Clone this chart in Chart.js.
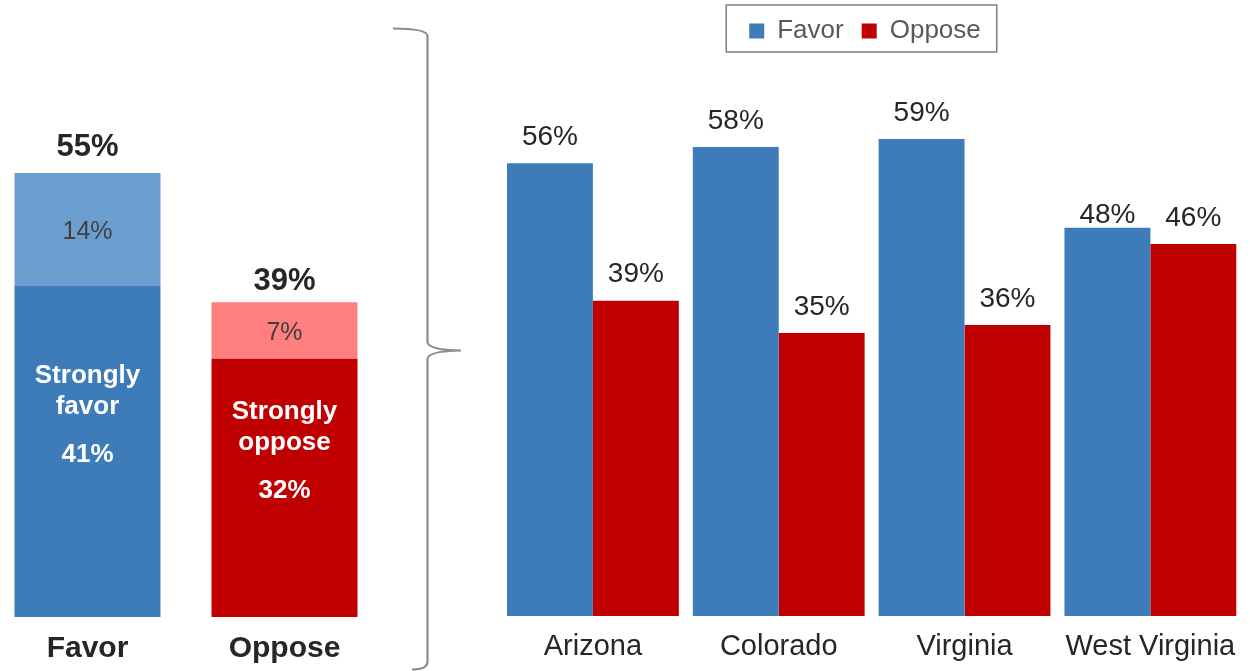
<!DOCTYPE html>
<html>
<head>
<meta charset="utf-8">
<title>Favor vs Oppose by state</title>
<script src="https://cdn.jsdelivr.net/npm/chart.js@4.4.1/dist/chart.umd.min.js"></script>
<style>
    html, body { margin: 0; padding: 0; background: #fff; }
    #wrap { position: relative; width: 1250px; height: 671px; overflow: hidden; background: #fff; }
    #total-chart { position: absolute; left: -11px; top: 0; }
    #state-chart { position: absolute; left: 480px; top: 0; }
    #brace { position: absolute; left: 0; top: 0; }
</style>
</head>
<body>
<div id="wrap">
    <canvas id="total-chart" width="394" height="671"></canvas>
    <svg id="brace" width="480" height="671">
        <path d="M393 28.5 Q427 28.5 427.5 36 L427.5 342 Q428 350 461 350.5 M461 350.5 Q428 351 427.5 359 L427.5 662 Q427 669.5 412 669.5"
              fill="none" stroke="#8c8c8c" stroke-width="2.2"></path>
    </svg>
    <canvas id="state-chart" width="770" height="671"></canvas>
</div>

<script>
    'use strict';

    var FONT = "'Liberation Sans', Arial, sans-serif";
    var TEXT_DARK = '#262626';

    // Overall result (left panel)
    var sideLabels = ['Favor', 'Oppose'];
    var strongValues = [41, 32];
    var somewhatValues = [14, 7];
    var strongNames = [['Strongly', 'favor'], ['Strongly', 'oppose']];

    // Results by state (right panel)
    var states = ['Arizona', 'Colorado', 'Virginia', 'West Virginia'];
    var favorValues = [56, 58, 59, 48];
    var opposeValues = [39, 35, 36, 46];

    var strongColors = ['#3D7BB9', '#C00000'];
    var somewhatColors = ['#6C9FD0', '#FF7F7F'];

    // Labels inside and above the stacked bars
    var stackLabels = {
        id: 'stackLabels',
        afterDatasetsDraw: function(chart, args, opts) {
            var ctx = chart.ctx;
            var lift = opts.totalLift || [];
            var strongMeta = chart.getDatasetMeta(0);
            var softMeta = chart.getDatasetMeta(1);

            ctx.save();
            ctx.textAlign = 'center';
            ctx.textBaseline = 'middle';

            strongMeta.data.forEach(function(bar, i) {
                var mid = (bar.y + bar.base) / 2;
                ctx.fillStyle = '#ffffff';
                ctx.font = 'bold 26px ' + FONT;
                ctx.fillText(strongNames[i][0], bar.x, mid - 76);
                ctx.fillText(strongNames[i][1], bar.x, mid - 45);
                ctx.fillText(strongValues[i] + '%', bar.x, mid + 3);
            });

            softMeta.data.forEach(function(bar, i) {
                var mid = (bar.y + bar.base) / 2;
                ctx.fillStyle = '#404040';
                ctx.font = '25px ' + FONT;
                ctx.fillText(somewhatValues[i] + '%', bar.x, mid + 3);

                ctx.fillStyle = TEXT_DARK;
                ctx.font = 'bold 31px ' + FONT;
                ctx.fillText((strongValues[i] + somewhatValues[i]) + '%', bar.x, bar.y - (lift[i] || 26));
            });
            ctx.restore();
        }
    };

    // Value labels above the grouped bars
    var valueLabels = {
        id: 'valueLabels',
        afterDatasetsDraw: function(chart, args, opts) {
            var ctx = chart.ctx;
            var nudge = opts.nudge || {};
            ctx.save();
            ctx.textAlign = 'center';
            ctx.textBaseline = 'middle';
            ctx.fillStyle = TEXT_DARK;
            ctx.font = '28px ' + FONT;
            chart.data.datasets.forEach(function(ds, d) {
                chart.getDatasetMeta(d).data.forEach(function(bar, i) {
                    var shift = nudge[d + '-' + i] || 0;
                    ctx.fillText(ds.data[i] + '%', bar.x, bar.y - 26 + shift);
                });
            });
            ctx.restore();
        }
    };

    // Thin frame around the legend
    var legendFrame = {
        id: 'legendFrame',
        afterDraw: function(chart) {
            var legend = chart.legend;
            if (!legend || !legend.legendHitBoxes || !legend.legendHitBoxes.length) {
                return;
            }
            var boxes = legend.legendHitBoxes;
            var first = boxes[0];
            var last = boxes[boxes.length - 1];
            var ctx = chart.ctx;
            ctx.save();
            ctx.strokeStyle = '#7f7f7f';
            ctx.lineWidth = 1.5;
            ctx.strokeRect(first.left - 23, legend.top + 5, (last.left + last.width + 16) - (first.left - 23), 47);
            ctx.restore();
        }
    };

    function buildTotalChart() {
        var ctx = document.getElementById('total-chart').getContext('2d');
        new Chart(ctx, {
            type: 'bar',
            data: {
                labels: sideLabels,
                datasets: [{
                    label: 'Strongly',
                    data: strongValues,
                    backgroundColor: strongColors,
                    borderWidth: 0
                }, {
                    label: 'Somewhat',
                    data: somewhatValues,
                    backgroundColor: somewhatColors,
                    borderWidth: 0
                }]
            },
            options: {
                responsive: false,
                animation: false,
                devicePixelRatio: 1,
                layout: { padding: { top: 52, left: 0, right: 0, bottom: 0 } },
                datasets: {
                    bar: { categoryPercentage: 0.741, barPercentage: 1 }
                },
                plugins: {
                    legend: { display: false },
                    tooltip: { enabled: false },
                    stackLabels: { totalLift: [26, 20.5] }
                },
                scales: {
                    x: {
                        stacked: true,
                        grid: { display: false, drawTicks: false },
                        border: { display: false },
                        ticks: {
                            color: TEXT_DARK,
                            padding: 14,
                            font: { family: FONT, size: 30, weight: 'bold' }
                        },
                        afterFit: function(scale) { scale.height = 54; }
                    },
                    y: {
                        stacked: true,
                        display: false,
                        min: 0,
                        max: 70
                    }
                }
            },
            plugins: [stackLabels]
        });
    }

    function buildStateChart() {
        var ctx = document.getElementById('state-chart').getContext('2d');
        new Chart(ctx, {
            type: 'bar',
            data: {
                labels: states,
                datasets: [{
                    label: 'Favor',
                    data: favorValues,
                    backgroundColor: '#3D7BB9',
                    borderWidth: 0
                }, {
                    label: 'Oppose',
                    data: opposeValues,
                    backgroundColor: '#C00000',
                    borderWidth: 0
                }]
            },
            options: {
                responsive: false,
                animation: false,
                devicePixelRatio: 1,
                layout: { padding: { top: 0, left: 6, right: 6, bottom: 0 } },
                datasets: {
                    bar: { categoryPercentage: 0.9247, barPercentage: 1 }
                },
                plugins: {
                    legend: {
                        position: 'top',
                        labels: {
                            boxWidth: 15,
                            boxHeight: 15,
                            padding: 18,
                            color: '#595959',
                            font: { family: FONT, size: 26 }
                        }
                    },
                    tooltip: { enabled: false },
                    valueLabels: { nudge: { '0-3': 13 } }
                },
                scales: {
                    x: {
                        grid: { display: false, drawTicks: false },
                        border: { display: false },
                        ticks: {
                            color: TEXT_DARK,
                            padding: 14,
                            font: { family: FONT, size: 29 }
                        },
                        afterFit: function(scale) { scale.height = 55; }
                    },
                    y: {
                        min: 0,
                        max: 69.5,
                        grid: { display: false },
                        border: { display: false },
                        ticks: { display: false },
                        afterFit: function(scale) { scale.width = 14; }
                    }
                }
            },
            plugins: [valueLabels, legendFrame]
        });
    }

    buildTotalChart();
    buildStateChart();
</script>
</body>
</html>
